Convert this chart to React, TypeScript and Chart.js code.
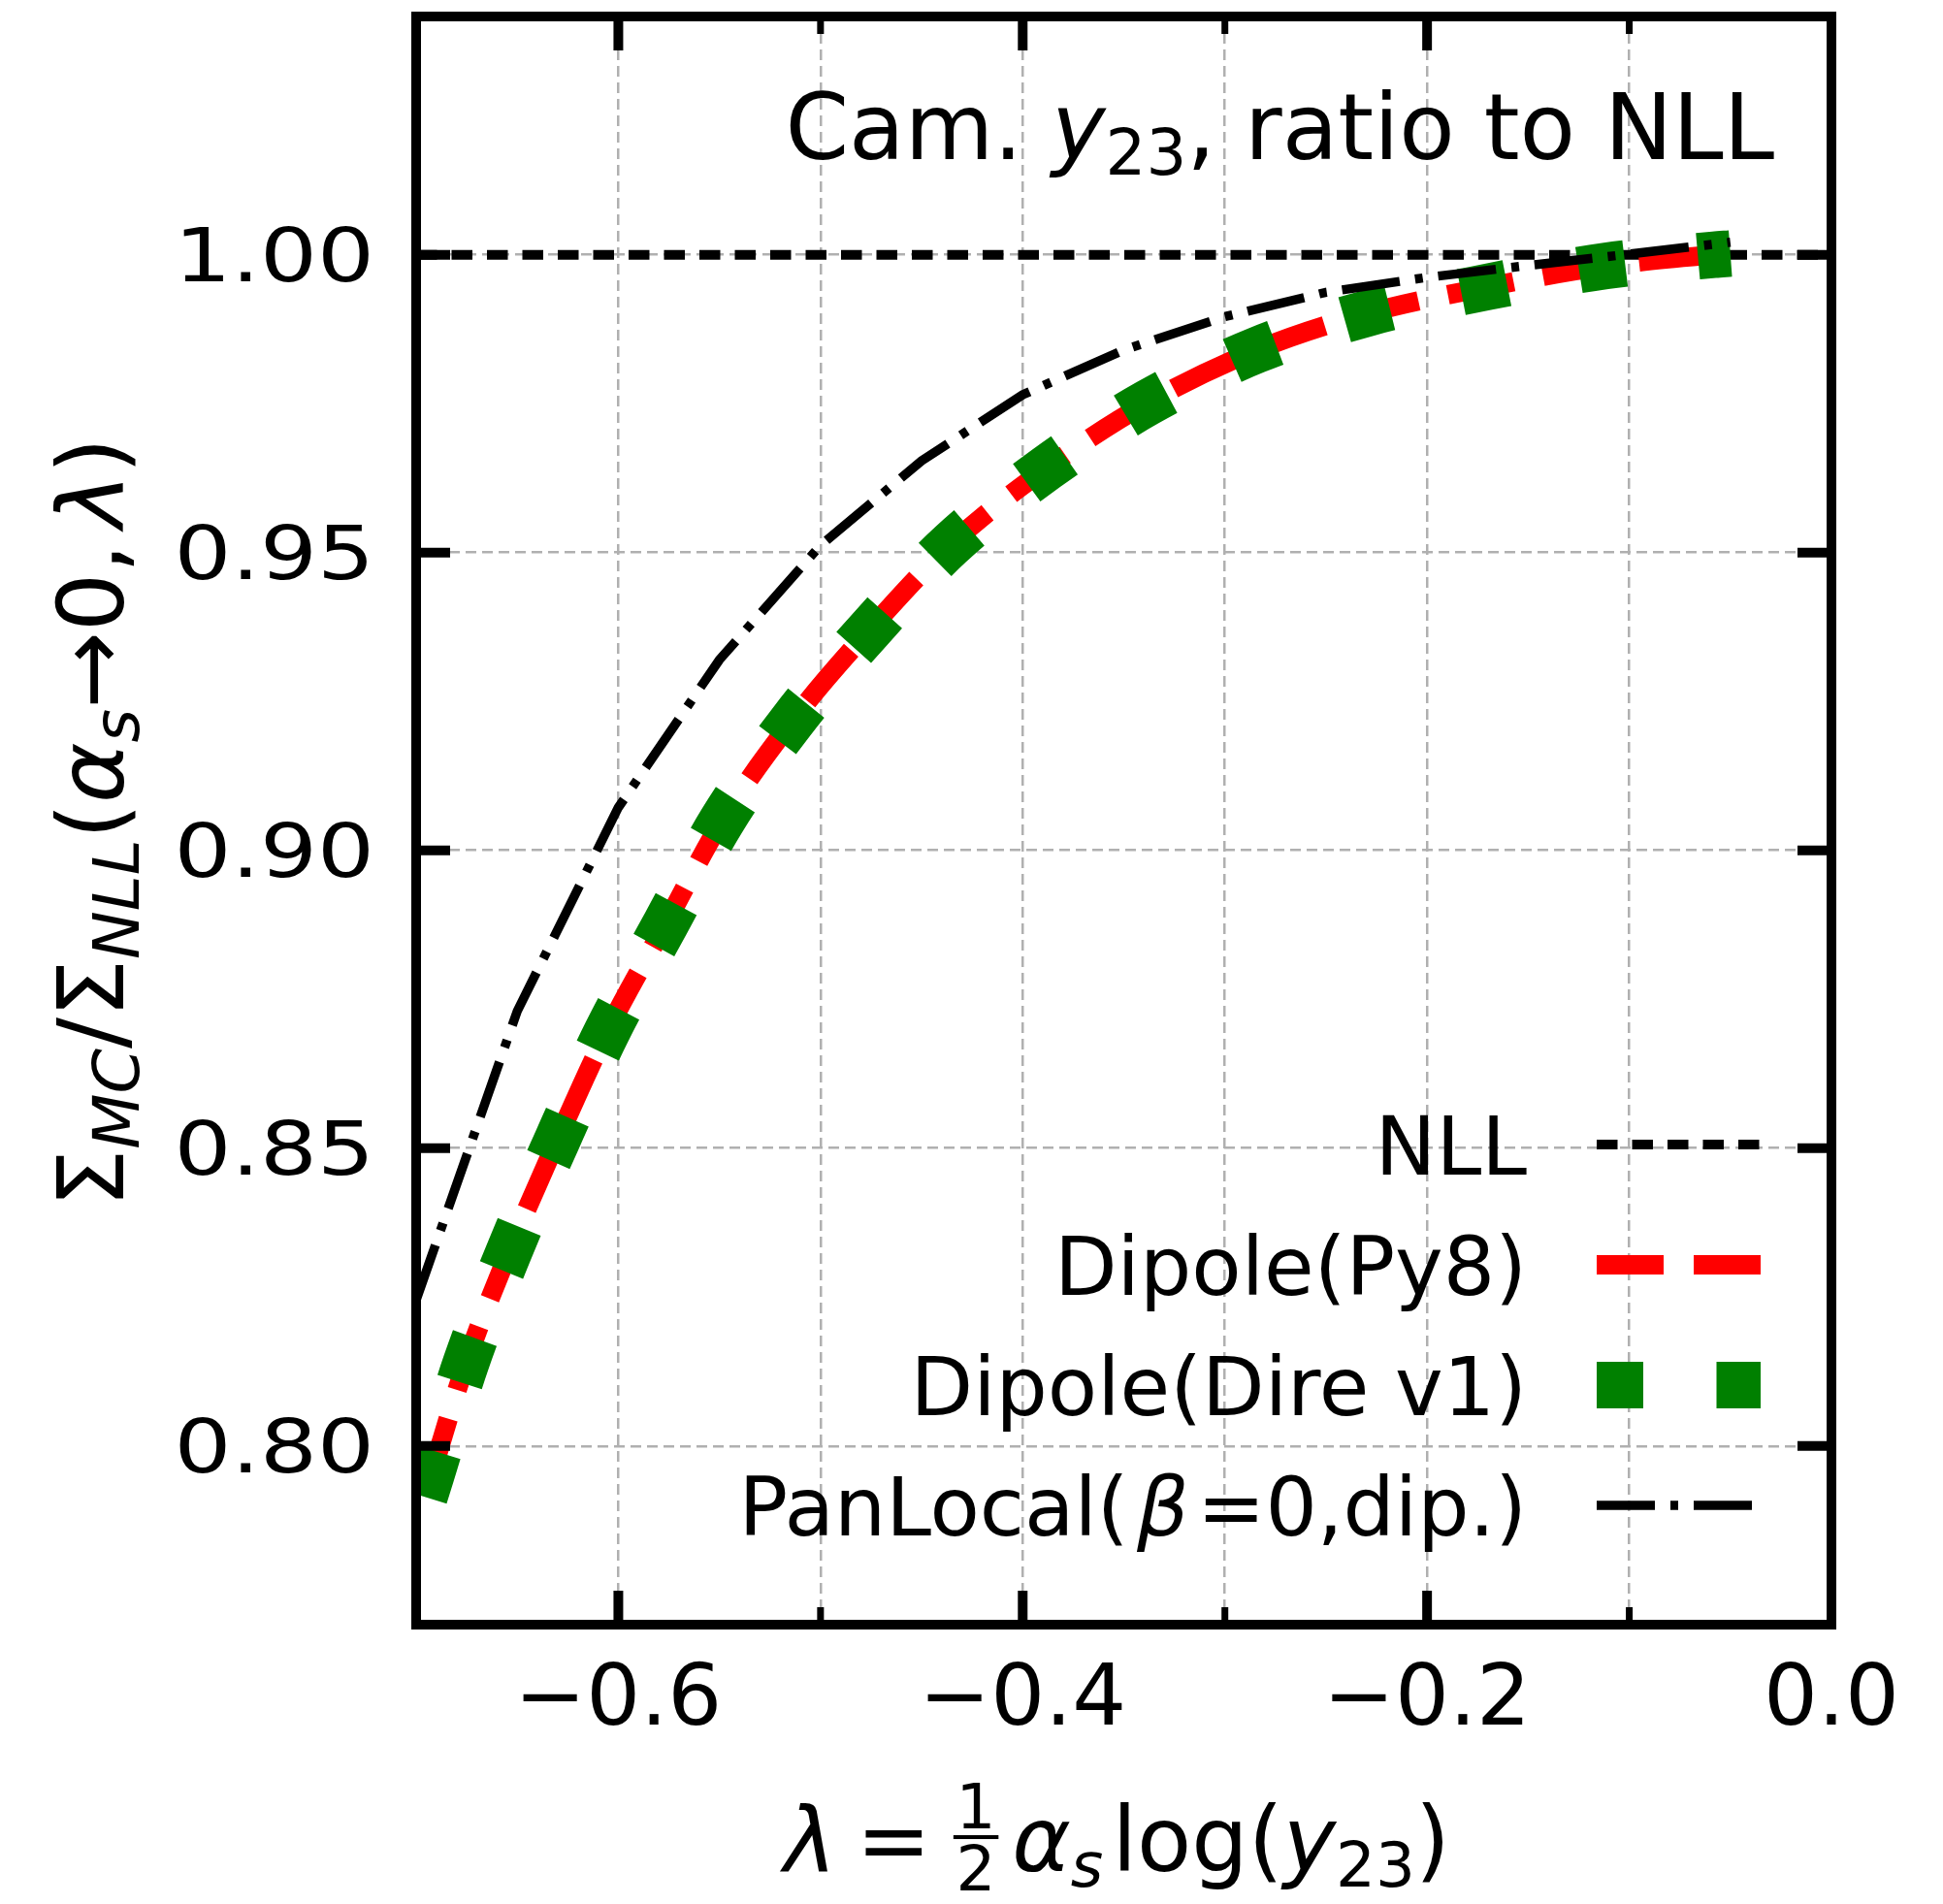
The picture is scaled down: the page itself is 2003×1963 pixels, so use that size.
import React, { useEffect, useRef } from "react";
import { Chart, registerables } from "chart.js";

Chart.register(...registerables);

// ---------------- data ----------------
const xTickValues = [-0.7, -0.6, -0.5, -0.4, -0.3, -0.2, -0.1, 0.0];
const xLabelledTicks = [-0.6, -0.4, -0.2, 0.0];
const yTickValues = [0.8, 0.85, 0.9, 0.95, 1.0];

const nllLambda = [-0.7, 0.0];
const nllRatio = [1.0, 1.0];

const dipoleLambda = [-0.6982, -0.6925, -0.6754, -0.654, -0.6302, -0.6057, -0.5764, -0.5489, -0.5141, -0.4756, -0.4358, -0.3881, -0.338, -0.2842, -0.2292, -0.17, -0.1119, -0.058, -0.05];
const py8Ratio = [0.789, 0.7952, 0.8139, 0.8327, 0.8514, 0.8695, 0.8878, 0.9049, 0.9217, 0.9371, 0.9513, 0.9642, 0.9752, 0.984, 0.9902, 0.9946, 0.9981, 1.0, 1.0002];
const direRatio = [0.789, 0.7952, 0.8139, 0.8327, 0.8514, 0.8695, 0.8878, 0.9049, 0.9217, 0.9371, 0.9513, 0.9642, 0.9752, 0.984, 0.9902, 0.9946, 0.9981, 1.0, 1.0002];

const panLambda = [-0.7, -0.65, -0.6, -0.55, -0.5, -0.45, -0.4, -0.35, -0.3, -0.25, -0.2, -0.15, -0.1, -0.05];
const panRatio = [0.8245, 0.873, 0.9072, 0.932, 0.9512, 0.9654, 0.9765, 0.984, 0.9896, 0.9937, 0.9962, 0.9982, 1.0001, 1.0021];

const legendLabels = ["NLL", "Dipole(Py8)", "Dipole(Dire v1)", "PanLocal(β=0,dip.)"];

// ---------------- text helpers ----------------
const FAMILY = '"DejaVu Sans", "Noto Sans", sans-serif';

type Run = { t?: string; it?: boolean; sub?: boolean; gap?: number; frac?: [string, string] };

function setFont(ctx: CanvasRenderingContext2D, size: number, it?: boolean) {
  ctx.font = `${it ? "italic " : ""}${size}px ${FAMILY}`;
}

function runWidth(ctx: CanvasRenderingContext2D, r: Run, size: number): number {
  if (r.gap !== undefined) return r.gap * size;
  if (r.frac) {
    setFont(ctx, size * 0.7);
    const w = Math.max(ctx.measureText(r.frac[0]).width, ctx.measureText(r.frac[1]).width);
    return w + 0.12 * size;
  }
  setFont(ctx, r.sub ? size * 0.7 : size, r.it);
  return ctx.measureText(r.t || "").width;
}

function runsWidth(ctx: CanvasRenderingContext2D, runs: Run[], size: number) {
  return runs.reduce((a, r) => a + runWidth(ctx, r, size), 0);
}

function drawRuns(ctx: CanvasRenderingContext2D, runs: Run[], x: number, y: number, size: number) {
  ctx.textAlign = "left";
  ctx.textBaseline = "alphabetic";
  for (const r of runs) {
    const w = runWidth(ctx, r, size);
    if (r.frac) {
      const fs = size * 0.7;
      setFont(ctx, fs);
      const barY = y - 0.38 * size;
      ctx.fillRect(x + 0.03 * size, barY - 2, w - 0.06 * size, 4);
      ctx.textAlign = "center";
      ctx.fillText(r.frac[0], x + w / 2, barY - 9);
      ctx.fillText(r.frac[1], x + w / 2, barY + 8 + 0.729 * fs);
      ctx.textAlign = "left";
    } else if (r.gap === undefined) {
      setFont(ctx, r.sub ? size * 0.7 : size, r.it);
      ctx.fillText(r.t || "", x, y + (r.sub ? size * 0.17 : 0));
    }
    x += w;
  }
  return x;
}

function fmtX(v: number) {
  if (Math.abs(v) < 1e-9) return "0.0";
  return (v < 0 ? "\u2212" : "") + Math.abs(v).toFixed(1);
}

const decorPlugin = {
  id: "decor",
  afterDraw(chart: any) {
    const ctx: CanvasRenderingContext2D = chart.ctx;
    const a = chart.chartArea;
    const xs = chart.scales.x;
    const ys = chart.scales.y;
    ctx.save();
    ctx.fillStyle = "#000";
    ctx.strokeStyle = "#000";
    ctx.lineCap = "butt";
    ctx.setLineDash([]);

    // y tick labels (wide glyphs as in the reference)
    const ySize = 76;
    for (const v of yTickValues) {
      const py = ys.getPixelForValue(v);
      ctx.save();
      ctx.translate(a.left - 43, py + 0.3645 * ySize);
      ctx.scale(1.22, 1);
      setFont(ctx, ySize);
      ctx.textAlign = "right";
      ctx.textBaseline = "alphabetic";
      ctx.fillText(v.toFixed(2), 0, 0);
      ctx.restore();
    }

    // inward tick marks on all four sides
    const seg = (x0: number, y0: number, x1: number, y1: number) => {
      ctx.beginPath();
      ctx.moveTo(x0, y0);
      ctx.lineTo(x1, y1);
      ctx.stroke();
    };
    for (const v of xTickValues) {
      const px = xs.getPixelForValue(v);
      const major = xLabelledTicks.some((m) => Math.abs(m - v) < 1e-9);
      const len = major ? 35 : 18;
      ctx.lineWidth = major ? 10 : 7;
      seg(px, a.bottom, px, a.bottom - len);
      seg(px, a.top, px, a.top + len);
    }
    for (const v of yTickValues) {
      const py = ys.getPixelForValue(v);
      ctx.lineWidth = 10;
      seg(a.left, py, a.left + 35, py);
      seg(a.right, py, a.right - 35, py);
    }

    // frame
    ctx.lineWidth = 10;
    ctx.lineJoin = "miter";
    ctx.strokeRect(a.left, a.top, a.right - a.left, a.bottom - a.top);

    // in-plot title
    const tSize = 94;
    const titleRuns: Run[] = [{ t: "Cam. " }, { t: "y", it: true }, { t: "23", sub: true }, { t: ", ratio to NLL" }];
    const tw = runsWidth(ctx, titleRuns, tSize);
    drawRuns(ctx, titleRuns, a.right - 59 - tw, a.top + 147, tSize);

    // legend
    const lSize = 84;
    const ds = chart.data.datasets;
    legendLabels.forEach((label, i) => {
      const cy = a.top + 1163 + i * 124;
      const runs: Run[] =
        i === 3
          ? [{ t: "PanLocal(" }, { gap: 0.1 }, { t: "β", it: true }, { gap: 0.1 }, { t: "=0,dip.)" }]
          : [{ t: label }];
      const w = runsWidth(ctx, runs, lSize);
      drawRuns(ctx, runs, a.left + 1145 - w, cy + 0.3645 * lSize, lSize);
      const d = ds[i];
      ctx.save();
      ctx.strokeStyle = d.borderColor;
      ctx.lineWidth = d.borderWidth;
      ctx.setLineDash(d.borderDash || []);
      ctx.lineDashOffset = 0;
      ctx.beginPath();
      ctx.moveTo(a.left + 1217, cy);
      ctx.lineTo(a.left + 1386, cy);
      ctx.stroke();
      ctx.restore();
    });

    // x axis title
    const axSize = 92;
    const xRuns: Run[] = [
      { t: "λ", it: true },
      { gap: 0.22 },
      { t: "=" },
      { gap: 0.22 },
      { frac: ["1", "2"] },
      { gap: 0.12 },
      { t: "α", it: true },
      { t: "s", it: true, sub: true },
      { gap: 0.1 },
      { t: "log(" },
      { t: "y", it: true },
      { t: "23", sub: true },
      { t: ")" },
    ];
    const xw = runsWidth(ctx, xRuns, axSize);
    drawRuns(ctx, xRuns, (a.left + a.right) / 2 - xw / 2 - 7, a.bottom + 254, axSize);

    // y axis title (rotated)
    const ySz = 95;
    const yRuns: Run[] = [
      { t: "Σ" },
      { t: "MC", it: true, sub: true },
      { t: "/" },
      { t: "Σ" },
      { t: "NLL", it: true, sub: true },
      { t: "(" },
      { t: "α", it: true },
      { t: "s", it: true, sub: true },
      { t: "→0," },
      { gap: 0.17 },
      { t: "λ", it: true },
      { t: ")" },
    ];
    const yw = runsWidth(ctx, yRuns, ySz);
    ctx.save();
    ctx.translate(127, (a.top + a.bottom) / 2 + 2);
    ctx.rotate(-Math.PI / 2);
    drawRuns(ctx, yRuns, -yw / 2, 0, ySz);
    ctx.restore();

    ctx.restore();
  },
};

function pts(xs: number[], ys: number[]) {
  return xs.map((x, i) => ({ x, y: ys[i] }));
}

export default function App() {
  const ref = useRef<HTMLCanvasElement>(null);
  useEffect(() => {
    document.body.style.margin = "0";
    const canvas = ref.current!;
    const chart = new Chart(canvas, {
      type: "line",
      data: {
        datasets: [
          {
            label: legendLabels[0],
            data: pts(nllLambda, nllRatio),
            borderColor: "#000000",
            borderWidth: 10,
            borderDash: [21.5, 15],
            pointRadius: 0,
            tension: 0,
            fill: false,
            order: 4,
            clip: 0,
          },
          {
            label: legendLabels[1],
            data: pts(dipoleLambda, py8Ratio),
            borderColor: "#ff0000",
            borderWidth: 20,
            borderDash: [69, 31],
            borderDashOffset: 69,
            pointRadius: 0,
            cubicInterpolationMode: "monotone",
            fill: false,
            order: 3,
            clip: 0,
          },
          {
            label: legendLabels[2],
            data: pts(dipoleLambda, direRatio),
            borderColor: "#008000",
            borderWidth: 48,
            borderDash: [48, 75.5],
            borderDashOffset: 107.5,
            pointRadius: 0,
            cubicInterpolationMode: "monotone",
            fill: false,
            order: 2,
            clip: 0,
          },
          {
            label: legendLabels[3],
            data: pts(panLambda, panRatio),
            borderColor: "#000000",
            borderWidth: 9.5,
            borderDash: [60, 16, 8, 16],
            pointRadius: 0,
            tension: 0,
            fill: false,
            order: 1,
            clip: 0,
          },
        ] as any,
      },
      options: {
        responsive: false,
        animation: false,
        devicePixelRatio: 1,
        layout: { padding: { left: 0, top: 17, right: 115, bottom: 0 } },
        plugins: { legend: { display: false }, tooltip: { enabled: false } },
        scales: {
          x: {
            type: "linear",
            min: -0.7,
            max: 0,
            afterBuildTicks: (s: any) => {
              s.ticks = xTickValues.map((v) => ({ value: v }));
            },
            afterFit: (s: any) => {
              s.height = 288;
            },
            ticks: {
              autoSkip: false,
              maxRotation: 0,
              padding: 27,
              color: "#000",
              font: { family: FAMILY, size: 88 },
              callback: (v: any) => {
                const n = Number(v);
                return xLabelledTicks.some((m) => Math.abs(m - n) < 1e-9) ? fmtX(n) : "";
              },
            },
            grid: { color: "#b0b0b0", lineWidth: 2.5, drawTicks: false },
            border: { display: false, dash: [11, 6] },
          },
          y: {
            type: "linear",
            min: 0.77,
            max: 1.04,
            afterBuildTicks: (s: any) => {
              s.ticks = yTickValues.map((v) => ({ value: v }));
            },
            afterFit: (s: any) => {
              s.width = 429;
            },
            ticks: { display: false },
            grid: { color: "#b0b0b0", lineWidth: 2.5, drawTicks: false },
            border: { display: false, dash: [11, 6] },
          },
        },
      } as any,
      plugins: [decorPlugin],
    });
    return () => chart.destroy();
  }, []);
  return <canvas ref={ref} width={2003} height={1963} style={{ display: "block", width: 2003, height: 1963 }} />;
}
